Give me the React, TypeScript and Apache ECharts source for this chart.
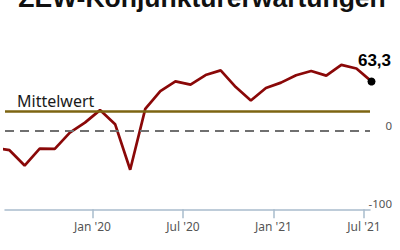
import React, { useEffect, useRef } from "react";
import * as echarts from "echarts";

const titleText = "ZEW-Konjunkturerwartungen";
const months = [
  "2019-06", "2019-07", "2019-08", "2019-09", "2019-10", "2019-11", "2019-12",
  "2020-01", "2020-02", "2020-03", "2020-04", "2020-05", "2020-06", "2020-07",
  "2020-08", "2020-09", "2020-10", "2020-11", "2020-12",
  "2021-01", "2021-02", "2021-03", "2021-04", "2021-05", "2021-06", "2021-07",
];
const values = [
  -21.1, -24.5, -44.1, -22.5, -22.8, -2.1, 10.7,
  26.7, 8.7, -49.5, 28.2, 51.0, 63.4, 59.3,
  71.5, 77.4, 56.1, 39.0, 55.0,
  61.8, 71.2, 76.6, 70.7, 84.4, 79.8, 63.3,
];
const tickMonths = ["2020-01", "2020-07", "2021-01", "2021-07"];
const tickLabels = ["Jan '20", "Jul '20", "Jan '21", "Jul '21"];
const yLabelValues = [0, -100];
const averageValue = 25;
const averageLabel = "Mittelwert";

const monthIndex = (m: string) => {
  const [y, mo] = m.split("-").map(Number);
  return (y - 2019) * 12 + (mo - 1);
};

export default function App() {
  const ref = useRef<HTMLDivElement>(null);
  useEffect(() => {
    if (!ref.current) return;
    const chart = echarts.init(ref.current, undefined, { renderer: "svg" });
    const lineData = months.map((m, i) => [monthIndex(m) + 0.5, values[i]]);
    const last = lineData[lineData.length - 1];
    const tickVals = tickMonths.map(monthIndex);
    const labelFont = "'Noto Sans', sans-serif";
    chart.setOption({
      animation: false,
      grid: { left: 5, top: 52.7, width: 365, height: 156.6 },
      xAxis: {
        type: "value",
        min: 6.2,
        max: 30.4,
        axisLine: { show: true, onZero: false, lineStyle: { color: "#a9bccd", width: 1.5 } },
        axisTick: {
          show: true,
          length: 9,
          customValues: tickVals,
          lineStyle: { color: "#a9bccd", width: 1.5 },
        },
        axisLabel: {
          customValues: tickVals,
          formatter: (v: number) => tickLabels[tickVals.indexOf(v)] ?? "",
          color: "#555",
          fontSize: 12,
          fontFamily: labelFont,
          margin: 11,
        },
        splitLine: { show: false },
      },
      yAxis: {
        type: "value",
        position: "right",
        min: -100,
        max: 100,
        axisLine: { show: false },
        axisTick: { show: false },
        splitLine: { show: false },
        axisLabel: {
          customValues: yLabelValues,
          formatter: (v: number) => String(v),
          align: "right",
          verticalAlign: "bottom",
          margin: 22,
          color: "#555",
          fontSize: 11.5,
          fontFamily: labelFont,
        },
      },
      graphic: [
        {
          type: "text",
          x: 202,
          y: -2,
          style: {
            text: titleText,
            font: "bold 26.5px 'Liberation Sans', Arial, sans-serif",
            fill: "#111",
            align: "center",
            verticalAlign: "middle",
          },
        },
      ],
      series: [
        {
          type: "line",
          data: [],
          z: 1,
          markLine: {
            silent: true,
            symbol: "none",
            data: [
              {
                yAxis: averageValue,
                lineStyle: { color: "#7d6512", width: 2.5, type: "solid" },
                label: {
                  show: true,
                  formatter: averageLabel,
                  position: "insideStartTop",
                  distance: [12, 2],
                  color: "#1a1a1a",
                  fontSize: 16,
                  fontFamily: labelFont,
                },
              },
              {
                yAxis: 0,
                lineStyle: { color: "#707070", width: 2, type: [9, 6] },
                label: { show: false },
              },
            ],
          },
        },
        {
          type: "line",
          data: lineData,
          z: 3,
          clip: false,
          symbol: "none",
          lineStyle: { color: "#8a0808", width: 2.7 },
        },
        {
          type: "scatter",
          data: [last],
          z: 4,
          clip: false,
          symbol: "circle",
          symbolSize: 8,
          itemStyle: { color: "#000", opacity: 1 },
          label: {
            show: true,
            position: "top",
            offset: [3, -3],
            formatter: (p: any) => p.value[1].toFixed(1).replace(".", ","),
            color: "#000",
            fontWeight: "bold",
            fontSize: 17,
            fontFamily: "'Liberation Sans', Arial, sans-serif",
          },
        },
      ],
    });
    return () => chart.dispose();
  }, []);
  return <div ref={ref} style={{ width: 400, height: 250, position: "absolute", left: 0, top: 0 }} />;
}
